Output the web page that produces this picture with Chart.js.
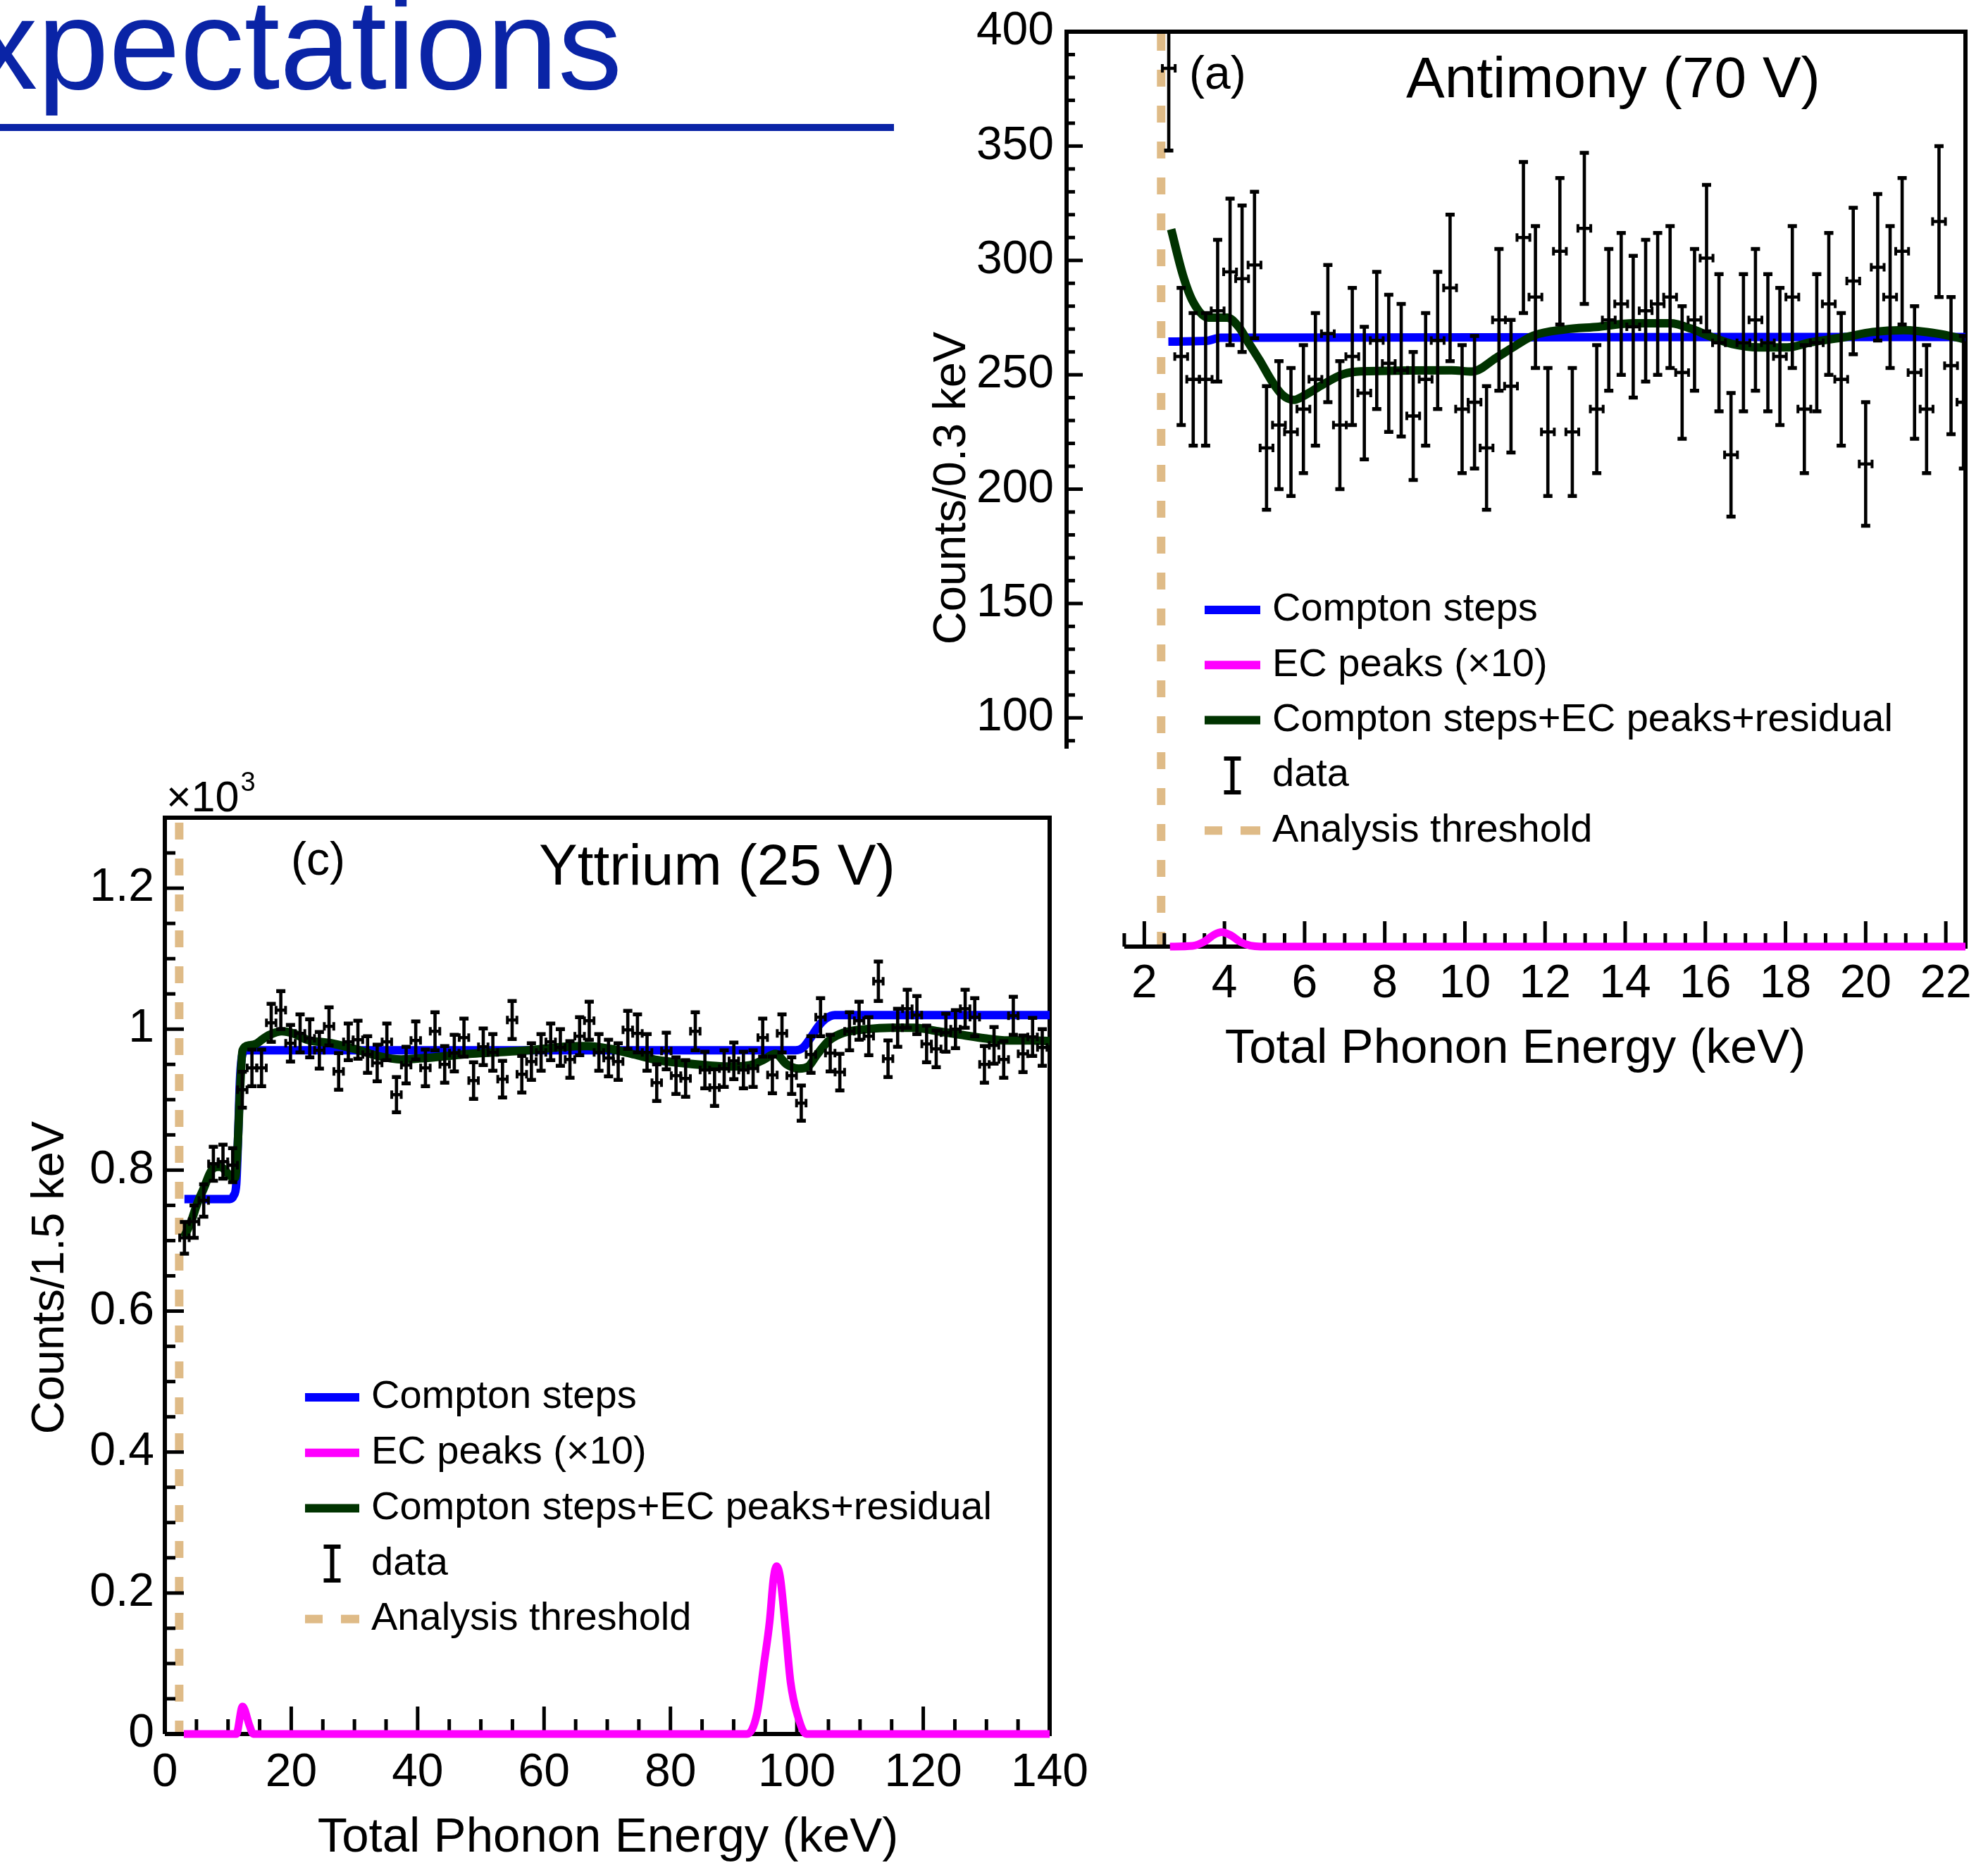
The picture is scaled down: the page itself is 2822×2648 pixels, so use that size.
<!DOCTYPE html>
<html>
<head>
<meta charset="utf-8">
<title>Compton steps and EC peaks</title>
<script src="https://cdn.jsdelivr.net/npm/chart.js@4.4.1/dist/chart.umd.min.js"></script>
<style>
    html, body { margin: 0; padding: 0; background: #fff; }
    body { width: 2822px; height: 2648px; position: relative; overflow: hidden; font-family: 'Liberation Sans', Arial, Helvetica, sans-serif; }
    #slideTitle { position: absolute; right: 1939px; top: -28px; font-size: 182px; line-height: 182px; color: #0a24a6; white-space: nowrap; }
    #titleRule { position: absolute; left: 0; top: 176px; width: 1269px; height: 10px; background: #0a24a6; }
    #boxA { position: absolute; left: 1300px; top: 0; width: 1522px; height: 1560px; }
    #boxC { position: absolute; left: 0; top: 1080px; width: 1560px; height: 1568px; }
</style>
</head>
<body>
<div id="slideTitle">xpectations</div>
<div id="titleRule"></div>
<div id="boxA"><canvas id="chartAntimony"></canvas></div>
<div id="boxC"><canvas id="chartYttrium"></canvas></div>

<script>
// --- panel (a): Antimony (70 V), counts per 0.3 keV ---
const antX = [2.61, 2.92, 3.22, 3.53, 3.83, 4.14, 4.44, 4.75, 5.05, 5.36,
    5.66, 5.97, 6.27, 6.58, 6.88, 7.19, 7.49, 7.80, 8.10, 8.41,
    8.71, 9.02, 9.32, 9.63, 9.93, 10.24, 10.54, 10.85, 11.15, 11.46,
    11.76, 12.07, 12.37, 12.68, 12.98, 13.29, 13.59, 13.90, 14.20, 14.51,
    14.81, 15.12, 15.42, 15.73, 16.03, 16.34, 16.64, 16.95, 17.25, 17.56,
    17.86, 18.17, 18.47, 18.78, 19.08, 19.39, 19.69, 20.00, 20.30, 20.61,
    20.91, 21.22, 21.52, 21.83, 22.13, 22.44];
const antCounts = [384, 258, 248, 248, 278, 295, 292, 298, 218, 228,
    225, 235, 248, 268, 228, 258, 242, 265, 255, 252,
    232, 248, 265, 288, 235, 238, 218, 274, 245, 310,
    284, 225, 304, 225, 314, 235, 274, 281, 271, 278,
    281, 284, 251, 274, 301, 264, 215, 264, 274, 264,
    258, 284, 235, 264, 281, 248, 291, 211, 297, 284,
    304, 251, 235, 317, 254, 238];
const antErr = [36, 30, 29, 29, 31, 32, 32, 32, 27, 28,
    28, 28, 29, 30, 28, 30, 29, 30, 30, 29,
    28, 29, 30, 32, 28, 29, 27, 31, 29, 33,
    31, 28, 32, 28, 33, 28, 31, 31, 31, 31,
    31, 31, 29, 31, 32, 30, 27, 30, 31, 30,
    30, 31, 28, 30, 31, 29, 32, 27, 32, 31,
    32, 29, 28, 33, 30, 29];
const antComptonX = [2.6, 3.55, 3.9, 22.49];
const antComptonY = [264.5, 264.8, 266.2, 266.5];
const antEcX = [2.64, 3.2, 3.5, 3.75, 3.93, 4.15, 4.4, 4.65, 4.9, 22.49];
const antEcY = [0, 0.3, 2.2, 5.3, 6.3, 5.0, 2.0, 0.4, 0, 0];
const antTotalX = [2.67, 2.96, 3.22, 3.6, 4.07, 4.37, 4.58, 4.88, 5.18, 5.44, 5.73, 6.03, 6.46, 6.97, 7.4,
    9.67, 10.18, 10.78, 11.2, 11.72, 12.48, 13.34, 14.19, 15.13, 15.64, 16.16, 16.67, 17.35, 18.04,
    18.63, 19.49, 20.17, 20.94, 21.79, 22.43];
const antTotalY = [313.6, 293.8, 281.8, 275, 275, 270.6, 264.6, 256.3, 247.3, 241.3, 239, 241.3, 245.8, 250.3, 251.5,
    252, 251.4, 257.4, 262, 267.2, 269.8, 271, 272.5, 272.5, 270.2, 266.5, 263.5, 262, 262,
    264.2, 266.5, 268.7, 269.5, 268, 265.7];
const antYTicks = [100, 150, 200, 250, 300, 350, 400];
const antYTickLabels = ['100', '150', '200', '250', '300', '350', '400'];
const antXTicks = [2, 4, 6, 8, 10, 12, 14, 16, 18, 20, 22];
const antXTickLabels = ['2', '4', '6', '8', '10', '12', '14', '16', '18', '20', '22'];

// --- panel (c): Yttrium (25 V), counts per 1.5 keV (x10^3) ---
const ytX = [3.10, 4.63, 6.15, 7.68, 9.20, 10.73, 12.25, 13.78, 15.30, 16.83,
    18.35, 19.88, 21.40, 22.93, 24.45, 25.98, 27.50, 29.03, 30.55, 32.08,
    33.60, 35.13, 36.65, 38.18, 39.70, 41.23, 42.75, 44.28, 45.80, 47.33,
    48.85, 50.38, 51.90, 53.43, 54.95, 56.48, 58.00, 59.53, 61.05, 62.58,
    64.10, 65.63, 67.15, 68.68, 70.20, 71.73, 73.25, 74.78, 76.30, 77.83,
    79.35, 80.88, 82.40, 83.93, 85.45, 86.98, 88.50, 90.03, 91.55, 93.08,
    94.60, 96.13, 97.65, 99.18, 100.70, 102.23, 103.75, 105.28, 106.80, 108.33,
    109.85, 111.38, 112.90, 114.43, 115.95, 117.48, 119.00, 120.53, 122.05, 123.58,
    125.10, 126.63, 128.15, 129.68, 131.20, 132.73, 134.25, 135.78, 137.30, 138.83];
const ytCounts = [0.704, 0.727, 0.757, 0.809, 0.812, 0.807, 0.914, 0.945, 0.945, 1.009,
    1.027, 0.980, 0.994, 0.987, 0.970, 1.004, 0.940, 0.982, 0.985, 0.964,
    0.952, 0.982, 0.907, 0.949, 0.984, 0.945, 0.997, 0.950, 0.966, 0.988,
    0.927, 0.975, 0.967, 0.929, 1.013, 0.936, 0.954, 0.967, 0.982, 0.974,
    0.957, 0.990, 1.012, 0.967, 0.959, 0.954, 0.999, 0.994, 0.967, 0.924,
    0.969, 0.934, 0.930, 0.997, 0.942, 0.917, 0.944, 0.955, 0.942, 0.944,
    0.988, 0.935, 0.994, 0.934, 0.895, 0.964, 1.017, 0.966, 0.939, 0.997,
    1.012, 0.990, 1.068, 0.958, 1.002, 1.029, 1.020, 0.979, 0.972, 0.995,
    1.000, 1.029, 1.017, 0.950, 0.977, 0.957, 1.019, 0.965, 0.989, 0.974];
const ytErr = [0.0225, 0.023, 0.023, 0.024, 0.024, 0.024, 0.0255, 0.026, 0.026, 0.027,
    0.027, 0.026, 0.027, 0.027, 0.026, 0.027, 0.026, 0.026, 0.027, 0.026,
    0.026, 0.026, 0.025, 0.026, 0.027, 0.026, 0.027, 0.026, 0.026, 0.027,
    0.026, 0.026, 0.026, 0.026, 0.027, 0.026, 0.026, 0.026, 0.026, 0.026,
    0.026, 0.027, 0.027, 0.026, 0.026, 0.026, 0.027, 0.027, 0.026, 0.026,
    0.026, 0.026, 0.026, 0.027, 0.026, 0.026, 0.026, 0.026, 0.026, 0.026,
    0.027, 0.026, 0.027, 0.026, 0.025, 0.026, 0.027, 0.026, 0.026, 0.027,
    0.027, 0.027, 0.028, 0.026, 0.027, 0.027, 0.027, 0.026, 0.026, 0.027,
    0.027, 0.027, 0.027, 0.026, 0.026, 0.026, 0.027, 0.026, 0.027, 0.026];
const ytComptonX = [3.1, 10.3, 10.9, 11.3, 11.6, 11.9, 12.3, 13.0, 99.8, 101.0, 102.2, 103.4, 104.6, 106.0, 140];
const ytComptonY = [0.759, 0.759, 0.764, 0.78, 0.85, 0.93, 0.965, 0.970, 0.970, 0.974, 0.988, 1.004, 1.015, 1.020, 1.020];
const ytEcX = [3.0, 11.3, 12.3, 13.4, 14.0, 92.1, 93.7, 94.8, 95.7, 96.3, 96.8, 97.4, 98.2, 99.0, 100.2, 101.5, 140];
const ytEcY = [0, 0, 0.039, 0.012, 0, 0, 0.029, 0.0995, 0.160, 0.220, 0.238, 0.220, 0.150, 0.074, 0.024, 0, 0];
const ytTotalX = [3.05, 4.2, 5.1, 6.2, 7.1, 7.7, 8.8, 9.5, 10.3, 11.1, 11.5, 11.9, 12.3, 13.3, 14.4, 15.5, 16.6, 18.5,
    20.3, 22.5, 26.3, 30.0, 33.7, 37.4, 41.1, 44.8, 48.2, 52.0, 57.5, 63.1, 66.8, 70.5, 74.3, 78.0, 81.7,
    85.4, 89.1, 92.6, 94.8, 96.6, 98.4, 100.3, 101.8, 103.2, 105.1, 107.4, 111.1, 114.8, 118.6, 122.3,
    126.0, 129.7, 133.4, 137.1, 140];
const ytTotalY = [0.705, 0.728, 0.752, 0.775, 0.795, 0.803, 0.805, 0.800, 0.792, 0.789, 0.83, 0.915, 0.970, 0.977, 0.979, 0.986, 0.992, 0.997,
    0.994, 0.985, 0.980, 0.972, 0.962, 0.957, 0.959, 0.962, 0.965, 0.967, 0.970, 0.975, 0.976, 0.972, 0.964, 0.956, 0.952,
    0.949, 0.947, 0.949, 0.957, 0.965, 0.950, 0.944, 0.947, 0.964, 0.984, 0.995, 1.000, 1.002, 1.002, 0.997,
    0.992, 0.987, 0.984, 0.984, 0.983];
const ytYTicks = [0, 0.2, 0.4, 0.6, 0.8, 1, 1.2];
const ytYTickLabels = ['0', '0.2', '0.4', '0.6', '0.8', '1', '1.2'];
const ytXTicks = [0, 20, 40, 60, 80, 100, 120, 140];
const ytXTickLabels = ['0', '20', '40', '60', '80', '100', '120', '140'];

const legendLabels = ['Compton steps', 'EC peaks (\u00d710)', 'Compton steps+EC peaks+residual', 'data', 'Analysis threshold'];

const colors = {
    blue: '#0000ff',
    magenta: '#ff00ff',
    green: '#003300',
    tan: '#dfbb87',
    black: '#000000'
};
const FONT = "'Liberation Sans', Arial, Helvetica, sans-serif";

function pts(xs, ys) {
    return xs.map((x, i) => ({ x: x, y: ys[i] }));
}

// draws frame, ticks, labels, threshold, error bars and legend for one panel
function makeDecor(spec) {
    return {
        id: 'decor_' + spec.name,
        beforeDatasetsDraw(chart) {
            const ctx = chart.ctx;
            const area = chart.chartArea;
            const sx = chart.scales.x, sy = chart.scales.y;

            // analysis threshold
            ctx.save();
            ctx.strokeStyle = colors.tan;
            ctx.lineWidth = 12;
            ctx.setLineDash([24, 27]);
            ctx.lineDashOffset = -spec.dashPhase;
            const tx = sx.getPixelForValue(spec.threshold);
            ctx.beginPath();
            ctx.moveTo(tx, area.top);
            ctx.lineTo(tx, area.bottom);
            ctx.stroke();
            ctx.restore();

            // frame
            ctx.save();
            ctx.strokeStyle = colors.black;
            ctx.lineWidth = 6;
            ctx.lineJoin = 'miter';
            const yFloor = sy.getPixelForValue(spec.leftAxisFrom);
            const xStart = sx.getPixelForValue(spec.bottomAxisFrom);
            ctx.beginPath();
            ctx.moveTo(area.left, yFloor);
            ctx.lineTo(area.left, area.top);
            ctx.lineTo(area.right, area.top);
            ctx.lineTo(area.right, area.bottom);
            ctx.lineTo(xStart, area.bottom);
            ctx.stroke();

            // y ticks
            ctx.lineWidth = 5;
            let n = Math.round((spec.yMax - spec.yMinorFrom) / spec.yMinorStep);
            for (let i = 0; i <= n; i++) {
                const v = spec.yMinorFrom + i * spec.yMinorStep;
                const major = spec.yTicks.some(t => Math.abs(t - v) < 1e-6);
                const py = sy.getPixelForValue(v);
                ctx.beginPath();
                ctx.moveTo(area.left, py);
                ctx.lineTo(area.left + (major ? spec.yMajorLen : spec.yMinorLen), py);
                ctx.stroke();
            }
            // x ticks
            n = Math.round((spec.xMax - spec.xMinorFrom) / spec.xMinorStep);
            for (let i = 0; i <= n; i++) {
                const v = spec.xMinorFrom + i * spec.xMinorStep;
                const major = spec.xTicks.some(t => Math.abs(t - v) < 1e-6);
                const px = sx.getPixelForValue(v);
                if (px > area.right - 3) continue;
                ctx.beginPath();
                ctx.moveTo(px, area.bottom);
                ctx.lineTo(px, area.bottom - (major ? spec.xMajorLen : spec.xMinorLen));
                ctx.stroke();
            }
            ctx.restore();
        },
        afterDatasetsDraw(chart) {
            const ctx = chart.ctx;
            const area = chart.chartArea;
            const sx = chart.scales.x, sy = chart.scales.y;
            ctx.save();
            ctx.beginPath();
            ctx.rect(area.left, area.top - 2, area.right - area.left, area.bottom - area.top + 2);
            ctx.clip();
            ctx.strokeStyle = colors.black;
            ctx.lineCap = 'butt';
            spec.dataX.forEach((x, i) => {
                const v = spec.dataY[i], e = spec.dataErr[i];
                const px = sx.getPixelForValue(x);
                const py = sy.getPixelForValue(v);
                const pLo = sy.getPixelForValue(v - e);
                const pHi = sy.getPixelForValue(v + e);
                const pL = sx.getPixelForValue(x - spec.binHalf);
                const pR = sx.getPixelForValue(x + spec.binHalf);
                ctx.lineWidth = 4.6;
                ctx.beginPath();
                ctx.moveTo(px, pLo); ctx.lineTo(px, pHi);
                ctx.moveTo(pL, py); ctx.lineTo(pR, py);
                ctx.stroke();
                ctx.lineWidth = 5.5;
                ctx.beginPath();
                ctx.moveTo(px - 6.5, pLo); ctx.lineTo(px + 6.5, pLo);
                ctx.moveTo(px - 6.5, pHi); ctx.lineTo(px + 6.5, pHi);
                ctx.stroke();
                ctx.lineWidth = 4;
                ctx.beginPath();
                ctx.moveTo(pL, py - 6); ctx.lineTo(pL, py + 6);
                ctx.moveTo(pR, py - 6); ctx.lineTo(pR, py + 6);
                ctx.stroke();
            });
            ctx.restore();
        },
        afterDraw(chart) {
            const ctx = chart.ctx;
            const area = chart.chartArea;
            const sx = chart.scales.x, sy = chart.scales.y;
            ctx.save();
            ctx.fillStyle = colors.black;
            ctx.textBaseline = 'middle';

            // tick labels
            ctx.font = '66px ' + FONT;
            ctx.textAlign = 'right';
            spec.yTicks.forEach((v, i) => {
                ctx.fillText(spec.yTickLabels[i], area.left - spec.yLabelGap, sy.getPixelForValue(v));
            });
            ctx.textAlign = 'center';
            spec.xTicks.forEach((v, i) => {
                ctx.fillText(spec.xTickLabels[i], sx.getPixelForValue(v), spec.xLabelY);
            });

            // axis titles
            ctx.font = '69px ' + FONT;
            ctx.fillText('Total Phonon Energy (keV)', spec.xTitlePos[0], spec.xTitlePos[1]);
            ctx.save();
            ctx.translate(spec.yTitlePos[0], spec.yTitlePos[1]);
            ctx.rotate(-Math.PI / 2);
            ctx.font = '65px ' + FONT;
            ctx.fillText(spec.yTitle, 0, 0);
            ctx.restore();

            // panel tag and title
            ctx.textAlign = 'left';
            ctx.font = '66px ' + FONT;
            ctx.fillText(spec.tag, spec.tagPos[0], spec.tagPos[1]);
            ctx.font = '82px ' + FONT;
            ctx.fillText(spec.title, spec.titlePos[0], spec.titlePos[1]);

            // x10^3 multiplier
            if (spec.multiplier) {
                ctx.textBaseline = 'alphabetic';
                ctx.font = '61px ' + FONT;
                ctx.fillText('\u00d710', spec.multiplier[0], spec.multiplier[1]);
                const w = ctx.measureText('\u00d710').width;
                ctx.font = '38px ' + FONT;
                ctx.fillText('3', spec.multiplier[0] + w + 2, spec.multiplier[1] - 29);
                ctx.textBaseline = 'middle';
            }

            // legend
            const lg = spec.legend;
            ctx.font = '56px ' + FONT;
            legendLabels.forEach((label, i) => {
                const y = lg.y0 + i * lg.dy;
                ctx.save();
                ctx.lineCap = 'butt';
                if (i === 0 || i === 1 || i === 2) {
                    ctx.strokeStyle = [colors.blue, colors.magenta, colors.green][i];
                    ctx.lineWidth = 12;
                    ctx.beginPath();
                    ctx.moveTo(lg.x0, y); ctx.lineTo(lg.x1, y);
                    ctx.stroke();
                } else if (i === 3) {
                    const cx = (lg.x0 + lg.x1) / 2;
                    ctx.strokeStyle = colors.black;
                    ctx.lineWidth = 6;
                    ctx.beginPath();
                    ctx.moveTo(cx, y - 24); ctx.lineTo(cx, y + 24);
                    ctx.moveTo(cx - 12, y - 24); ctx.lineTo(cx + 12, y - 24);
                    ctx.moveTo(cx - 12, y + 24); ctx.lineTo(cx + 12, y + 24);
                    ctx.stroke();
                } else {
                    ctx.strokeStyle = colors.tan;
                    ctx.lineWidth = 12;
                    ctx.beginPath();
                    ctx.moveTo(lg.x0, y); ctx.lineTo(lg.x0 + 25, y);
                    ctx.moveTo(lg.x0 + 51, y); ctx.lineTo(lg.x1, y);
                    ctx.stroke();
                }
                ctx.restore();
                ctx.fillText(label, lg.tx, y);
            });
            ctx.restore();
        }
    };
}

function lineSet(label, xs, ys, color, width, order) {
    return {
        label: label,
        data: pts(xs, ys),
        borderColor: color,
        backgroundColor: color,
        borderWidth: width,
        pointRadius: 0,
        cubicInterpolationMode: 'monotone',
        borderJoinStyle: 'round',
        fill: false,
        clip: false,
        order: order
    };
}

function buildChart(canvasId, spec, padding, xRange, yRange) {
    const ctx = document.getElementById(canvasId).getContext('2d');
    return new Chart(ctx, {
        type: 'line',
        data: {
            datasets: [
                lineSet(legendLabels[0], spec.comptonX, spec.comptonY, colors.blue, 12, 4),
                lineSet(legendLabels[1], spec.ecX, spec.ecY, colors.magenta, 11, 3),
                lineSet(legendLabels[2], spec.totalX, spec.totalY, colors.green, 12, 2),
                {
                    label: legendLabels[3],
                    data: pts(spec.dataX, spec.dataY),
                    showLine: false,
                    pointRadius: 0,
                    order: 1
                }
            ]
        },
        options: {
            responsive: true,
            maintainAspectRatio: false,
            devicePixelRatio: 1,
            animation: false,
            events: [],
            layout: { padding: padding },
            plugins: {
                legend: { display: false },
                title: { display: false },
                tooltip: { enabled: false }
            },
            scales: {
                x: { type: 'linear', min: xRange[0], max: xRange[1], display: false },
                y: { type: 'linear', min: yRange[0], max: yRange[1], display: false }
            }
        },
        plugins: [makeDecor(spec)]
    });
}

const specAntimony = {
    name: 'antimony',
    dataX: antX, dataY: antCounts, dataErr: antErr, binHalf: 0.16,
    comptonX: antComptonX, comptonY: antComptonY,
    ecX: antEcX, ecY: antEcY,
    totalX: antTotalX, totalY: antTotalY,
    threshold: 2.42, dashPhase: 3,
    leftAxisFrom: 86.5, bottomAxisFrom: 1.5,
    yTicks: antYTicks, yTickLabels: antYTickLabels,
    yMinorFrom: 90, yMinorStep: 10, yMax: 400, yMajorLen: 23, yMinorLen: 12,
    xTicks: antXTicks, xTickLabels: antXTickLabels,
    xMinorFrom: 1.5, xMinorStep: 0.5, xMax: 22.49, xMajorLen: 36, xMinorLen: 19,
    yLabelGap: 18, xLabelY: 1398,
    xTitlePos: [851, 1490],
    yTitle: 'Counts/0.3 keV', yTitlePos: [52, 693],
    tag: '(a)', tagPos: [388, 108],
    title: 'Antimony (70 V)', titlePos: [696, 115],
    legend: { x0: 410, x1: 489, tx: 506, y0: 866, dy: 78.3 }
};

const specYttrium = {
    name: 'yttrium',
    dataX: ytX, dataY: ytCounts, dataErr: ytErr, binHalf: 0.75,
    comptonX: ytComptonX, comptonY: ytComptonY,
    ecX: ytEcX, ecY: ytEcY,
    totalX: ytTotalX, totalY: ytTotalY,
    threshold: 2.27, dashPhase: 7,
    leftAxisFrom: 0, bottomAxisFrom: 0,
    yTicks: ytYTicks, yTickLabels: ytYTickLabels,
    yMinorFrom: 0, yMinorStep: 0.05, yMax: 1.3, yMajorLen: 27, yMinorLen: 15,
    xTicks: ytXTicks, xTickLabels: ytXTickLabels,
    xMinorFrom: 0, xMinorStep: 5, xMax: 140, xMajorLen: 39, xMinorLen: 21,
    yLabelGap: 15, xLabelY: 1438,
    xTitlePos: [863, 1530],
    yTitle: 'Counts/1.5 keV', yTitlePos: [72, 734],
    tag: '(c)', tagPos: [413, 144],
    title: 'Yttrium (25 V)', titlePos: [765, 153],
    multiplier: [236, 72],
    legend: { x0: 433, x1: 510, tx: 527, y0: 904, dy: 78.7 }
};

buildChart('chartAntimony', specAntimony, { left: 214, right: 32, top: 45, bottom: 216 }, [0.06, 22.49], [0, 400]);
buildChart('chartYttrium', specYttrium, { left: 234, right: 70, top: 81, bottom: 186 }, [0, 140], [0, 1.3]);
</script>
</body>
</html>
